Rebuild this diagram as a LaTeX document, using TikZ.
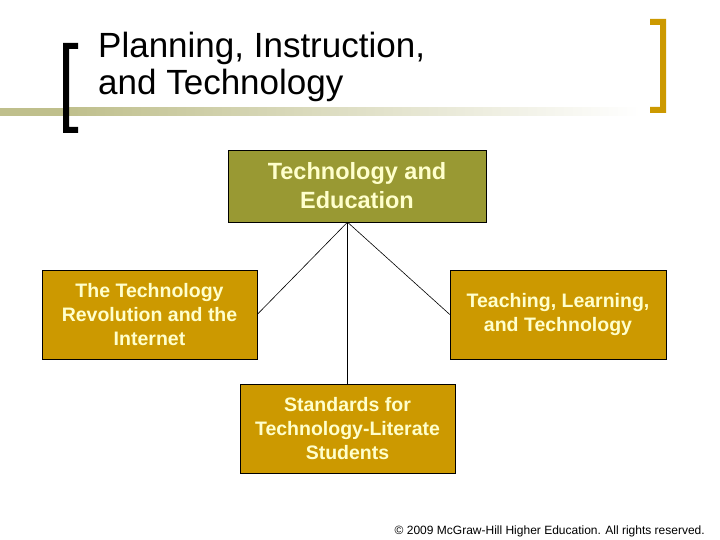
\documentclass[tikz,border=0pt]{standalone}
\usepackage{xcolor}
\usepackage{tikz}
\usepackage{fontspec}
\setmainfont{Liberation Sans}
\definecolor{olivebox}{HTML}{999933}
\definecolor{goldbox}{HTML}{CC9900}
\definecolor{creamtext}{HTML}{FFFFCC}
\definecolor{bandolive}{HTML}{BFBF8C}
\tikzset{headbox/.style={draw=black,fill=olivebox,text=creamtext,align=center,
           inner sep=0pt,minimum width=258pt,minimum height=72pt,
           font=\bfseries\fontsize{23.5}{29}\selectfont},
         topicbox/.style={draw=black,fill=goldbox,text=creamtext,align=center,
           inner sep=0pt,minimum width=215pt,minimum height=89pt,
           font=\bfseries\fontsize{19.5}{24}\selectfont},
         link/.style={draw=black,line width=0.6pt}}

\begin{document}
\begin{tikzpicture}[x=1pt,y=-1pt]
\useasboundingbox[fill=white] (0,0) rectangle (720,540);
% title band and brackets
\fill[bandolive] (0,108) rectangle (64,116);
\shade[left color=bandolive,right color=white] (64,108) rectangle (640,116);
\fill[black] (78,43)--(63,43)--(63,133)--(78,133)--(78,127)--(69,127)--(69,49)--(78,49)--cycle;
\fill[goldbox] (650,19)--(666,19)--(666,113)--(650,113)--(650,107)--(660,107)--(660,25)--(650,25)--cycle;
\node[anchor=base west,inner sep=0pt,align=left,font=\fontsize{35}{37}\selectfont] (title) at (98,95)
  {Planning, Instruction,\\and Technology};
% boxes
\node[headbox] (tech) at (357,186) {Technology and\\Education};
\node[topicbox] (revol) at (149.5,314.5) {The Technology\\Revolution and the\\Internet};
\node[topicbox,minimum width=216pt] (teach) at (558,314.5) {Teaching, Learning,\\and Technology};
\node[topicbox] (stand) at (347.5,428.5) {Standards for\\Technology-Literate\\Students};
% connectors
\coordinate (apex) at (tech.south -| stand.north);
\draw[link] (apex) -- (revol.east);
\draw[link] (apex) -- (teach.west);
\draw[link] (apex) -- (stand.north);
\node[anchor=base east,inner sep=0pt,font=\fontsize{12}{12}\selectfont] (copy) at (705,534)
  {\textcopyright{} 2009 McGraw-Hill Higher Education. All rights reserved.};
\end{tikzpicture}
\end{document}
